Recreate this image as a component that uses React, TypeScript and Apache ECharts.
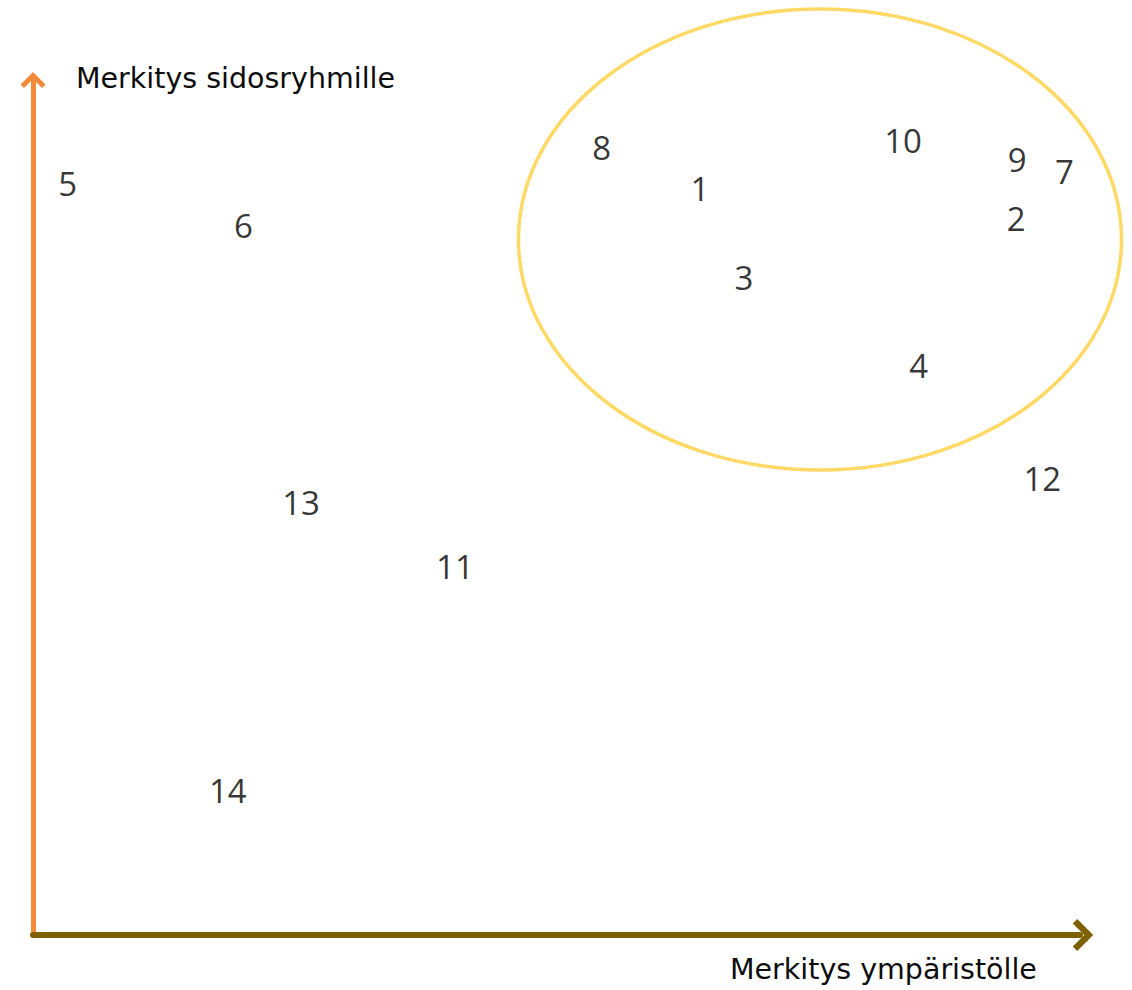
import React, { useEffect, useRef } from "react";
import * as echarts from "echarts";

const labels = ["1", "2", "3", "4", "5", "6", "7", "8", "9", "10", "11", "12", "13", "14"];
const envValues = [6.38, 9.4, 6.8, 8.47, 0.34, 2.02, 9.86, 5.44, 9.41, 8.32, 4.04, 9.65, 2.57, 1.87];
const stakeValues = [8.71, 8.36, 7.67, 6.64, 8.77, 8.27, 8.91, 9.19, 9.05, 9.27, 4.29, 5.32, 5.04, 1.67];

const yAxisTitle = "Merkitys sidosryhmille";
const xAxisTitle = "Merkitys ympäristölle";

const chevron = "path://M50,0 L100,50 L86,64 L50,28 L14,64 L0,50 Z";

export default function App() {
  const ref = useRef<HTMLDivElement>(null);
  useEffect(() => {
    if (!ref.current) return;
    const chart = echarts.init(ref.current, null, { renderer: "svg" });
    const data = labels.map((l, i) => ({ name: l, value: [envValues[i], stakeValues[i]] }));
    chart.setOption({
      animation: false,
      backgroundColor: "#ffffff",
      grid: { left: 33, right: 52, top: 80, bottom: 55 },
      xAxis: {
        type: "value",
        min: 0,
        max: 10,
        axisLine: {
          show: true,
          onZero: false,
          symbol: ["none", chevron],
          symbolSize: [32, 30],
          symbolOffset: [0, 3],
          lineStyle: { color: "#7F6000", width: 6 },
        },
        axisTick: { show: false },
        axisLabel: { show: false },
        splitLine: { show: false },
      },
      yAxis: {
        type: "value",
        min: 0,
        max: 10,
        axisLine: {
          show: true,
          onZero: false,
          symbol: ["none", chevron],
          symbolSize: [25, 25],
          symbolOffset: [0, 0],
          lineStyle: { color: "#F38A3A", width: 5 },
        },
        axisTick: { show: false },
        axisLabel: { show: false },
        splitLine: { show: false },
      },
      graphic: [
        {
          type: "ellipse",
          shape: { cx: 820, cy: 239.5, rx: 301.5, ry: 230.5 },
          style: { fill: "none", stroke: "#FFD966", lineWidth: 3.5 },
          z: 1,
        },
        {
          type: "text",
          left: 76,
          top: 64,
          style: {
            text: yAxisTitle,
            fontFamily: "DejaVu Sans",
            fontSize: 28.5,
            fill: "#0d0d0d",
          },
        },
        {
          type: "text",
          left: 730,
          top: 955,
          style: {
            text: xAxisTitle,
            fontFamily: "DejaVu Sans",
            fontSize: 28.5,
            fill: "#0d0d0d",
          },
        },
      ],
      series: [
        {
          type: "scatter",
          data,
          symbol: "circle",
          symbolSize: 1,
          itemStyle: { color: "rgba(0,0,0,0)" },
          label: {
            show: true,
            position: "inside",
            offset: [-1, -2],
            formatter: "{b}",
            fontFamily: "Open Sans",
            fontSize: 33,
            color: "#000000",
          },
          z: 3,
        },
      ],
    });
    return () => chart.dispose();
  }, []);
  return (
    <div
      ref={ref}
      style={{ position: "absolute", left: 0, top: 0, width: 1132, height: 990 }}
    />
  );
}
